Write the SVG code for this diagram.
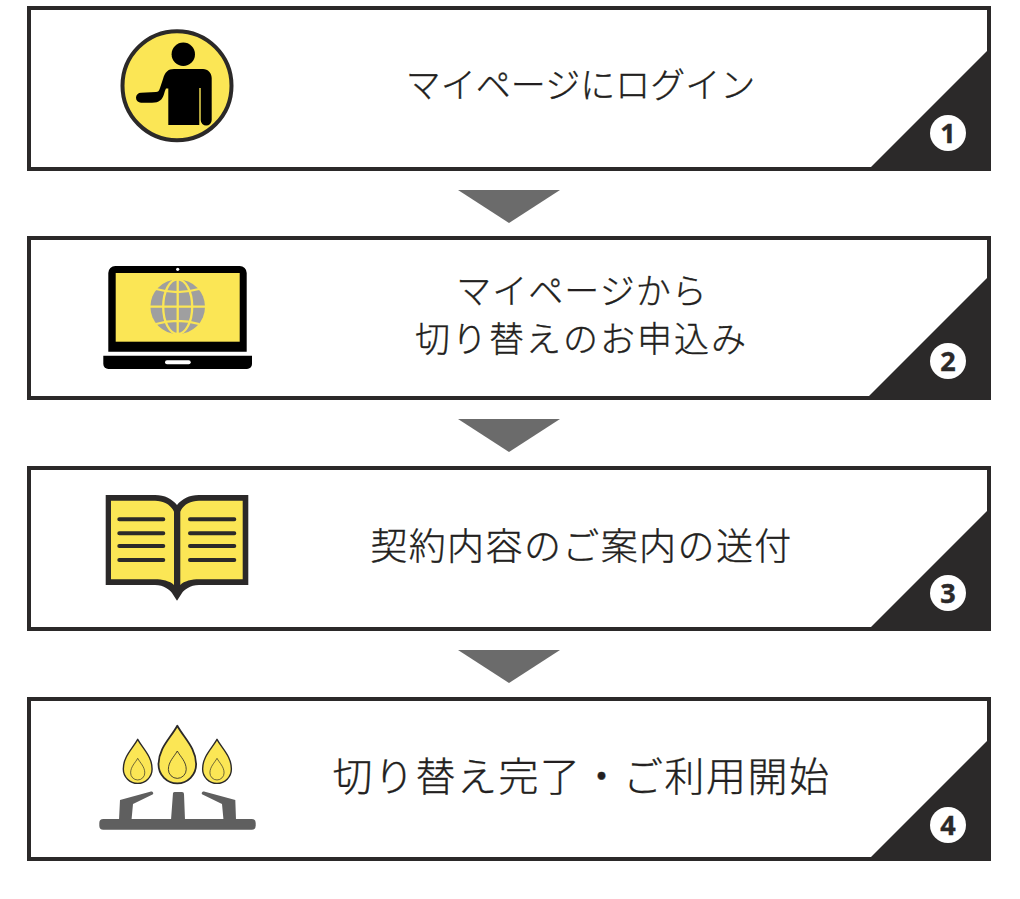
<svg xmlns="http://www.w3.org/2000/svg" xmlns:xlink="http://www.w3.org/1999/xlink" width="1020" height="899" viewBox="0 0 1020 899">
<style>
.box{fill:#fff;stroke:#2b2929;stroke-width:4}
.corner{fill:#2b2929}
.badge{fill:#fff}
.num{font-family:"Open Sans","Noto Sans",sans-serif;font-weight:700;font-size:27px;fill:#2b2929;stroke:#2b2929;stroke-width:.4;text-anchor:middle}
.lbl{font-family:"Noto Sans CJK JP",sans-serif;font-weight:300;fill:#231f20;stroke:#231f20;stroke-width:.35;text-anchor:middle}
.arrow{fill:#6b6b6b}
.y{fill:#fbe655}
.line{stroke:#2b2929;stroke-width:4;stroke-linecap:round}
.fl{stroke:#2b2929;stroke-width:1.8;vector-effect:non-scaling-stroke;stroke-linejoin:round}
</style>
<defs>
<path id="flame" d="M0 0C6.7 12.300 18.800 22.300 18.800 38.800A18.800 18.800 0 0 1-18.800 38.800C-18.800 22.300-6.700 12.300 0 0Z"/>
</defs>
<g id="connectors">
<polygon class="arrow" points="458,190 560,190 509,223"/>
<polygon class="arrow" points="458,419 560,419 509,452"/>
<polygon class="arrow" points="458,650 560,650 509,683"/>
</g>
<g id="step1">
<rect class="box" x="29" y="8" width="960" height="161"/>
<polygon class="corner" points="867,171 991,47 991,171"/>
<circle class="badge" cx="948" cy="133" r="18"/>
<text class="num" x="948" y="143">1</text>
<circle cx="177" cy="85.700" r="54.500" fill="#fbe655" stroke="#2b2929" stroke-width="4"/>
<circle cx="183.300" cy="54.300" r="11.700"/>
<path d="M168.300 125V88.500H166C164 92 164 98 160 100.500 158 102 156 102.700 152 102.700H141A5 5 0 0 1 141 92.700L156 92C158 92 159 91 160 88L163 79C165 72 168 69 174 69H203C208 69 211.700 73 211.700 78V120A5.500 5.500 0 0 1 200.700 120V88H199.300V125Z"/>
<text class="lbl" x="580.500" y="98" font-size="35">マイページにログイン</text>
</g>
<g id="step2">
<rect class="box" x="29" y="238" width="960" height="160"/>
<polygon class="corner" points="865,400 991,274 991,400"/>
<circle class="badge" cx="948" cy="361" r="18"/>
<text class="num" x="948" y="371">2</text>
<path d="M108.300 351.700V273A7 7 0 0 1 115.300 266H239.700A7 7 0 0 1 246.700 273V351.700Z"/>
<rect class="y" x="115.700" y="273" width="124" height="68.700"/>
<circle cx="177.700" cy="269.300" r="1.600" fill="#fff"/>
<path d="M103.300 355.700H252V364A5 5 0 0 1 247 369H108.300A5 5 0 0 1 103.300 364Z"/>
<rect x="165" y="360.300" width="25.700" height="4" rx="2" fill="#fff"/>
<circle cx="177.700" cy="306.700" r="27.300" fill="#9f9fa0"/>
<g fill="none" stroke="#fbe655" stroke-width="2.300">
<ellipse cx="177.700" cy="306.700" rx="14.500" ry="27.300"/>
<path d="M177.700 279V334M150 306.700H205M156 289C170 293 185 293 199 289M156 324C170 320 185 320 199 324"/>
</g>
<text class="lbl" x="582" y="304" font-size="35" letter-spacing="1">マイページから</text>
<text class="lbl" x="581.500" y="352" font-size="35" letter-spacing="2">切り替えのお申込み</text>
</g>
<g id="step3">
<rect class="box" x="29" y="468" width="960" height="161"/>
<polygon class="corner" points="867,631 991,507 991,631"/>
<circle class="badge" cx="948" cy="593" r="18"/>
<text class="num" x="948" y="603">3</text>
<path fill="#2b2929" d="M105.700 495H155C165 495 172 499 177 505 182 499 189 495 199 495H248.300V585H199C190 585 184 590 182 593L177 600.700 172 593C170 590 164 585 155 585H105.700Z"/>
<path class="y" d="M111 500.700H155C164 500.700 171 505 174 511.700V585C170 581 162 579.300 155 579.300H111Z"/>
<path class="y" d="M242.700 500.700H199C190 500.700 183 505 180.300 511.700V585C184 581 192 579.300 199 579.300H242.700Z"/>
<path class="line" d="M119.300 519.300H163.300M119.300 533.300H163.300M119.300 546H163.300M119.300 560H163.300M190 519.300H234.300M190 533.300H234.300M190 546H234.300M190 560H234.300"/>
<text class="lbl" x="581.500" y="560" font-size="37" letter-spacing="1.400">契約内容のご案内の送付</text>
</g>
<g id="step4">
<rect class="box" x="29" y="699" width="960" height="160"/>
<polygon class="corner" points="867,861 991,737 991,861"/>
<circle class="badge" cx="948" cy="825" r="18"/>
<text class="num" x="948" y="835">4</text>
<rect x="99.300" y="819" width="156.400" height="10.700" rx="4" fill="#5f5f5f"/>
<path fill="#5f5f5f" d="M173 793A2 2 0 0 1 175 792H182A2 2 0 0 1 184 794L185 820H171ZM120 800L151 791.500C153 791 154 794 152.500 794.500L133 804 131.500 820H119Z"/>
<path fill="#5f5f5f" d="M235.300 800L204 791.500C202 791 201 794 202.500 794.500L222 804 223.500 820H236Z"/>
<use xlink:href="#flame" class="y fl" transform="translate(177.300 725.700)"/>
<use xlink:href="#flame" class="y fl" transform="translate(137.700 739.300) scale(.765)"/>
<use xlink:href="#flame" class="y fl" transform="translate(217 739.300) scale(.765)"/>
<use xlink:href="#flame" class="y fl" transform="translate(177.300 751) scale(.475)"/>
<use xlink:href="#flame" class="y fl" transform="translate(137.700 758.300) scale(.376)"/>
<use xlink:href="#flame" class="y fl" transform="translate(217 758.300) scale(.376)"/>
<text class="lbl" x="581.500" y="791" font-size="40" letter-spacing="1.500">切り替え完了・ご利用開始</text>
</g>
</svg>
